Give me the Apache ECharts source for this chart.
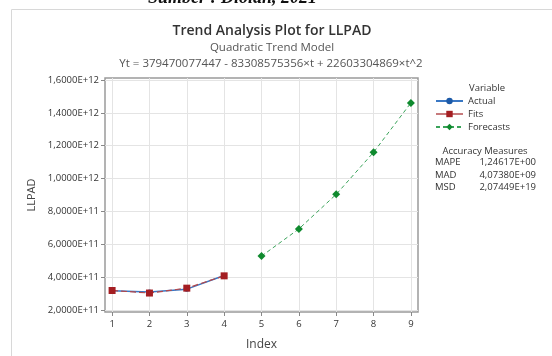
<!DOCTYPE html>
<html>
<head>
<meta charset="utf-8">
<style>html,body{margin:0;padding:0;background:#fff;}#c{width:552px;height:356px;}</style>
<script src="https://cdn.jsdelivr.net/npm/echarts@6/dist/echarts.min.js"></script>
</head>
<body>
<div id="c"></div>
<script>
const indexValues = [1, 2, 3, 4, 5, 6, 7, 8, 9];
const actualIdx = [1, 2, 3, 4];
const actualValues = [3.167e11, 3.094e11, 3.269e11, 4.099e11];
const fitsIdx = [1, 2, 3, 4];
const fitsValues = [3.188e11, 3.033e11, 3.330e11, 4.079e11];
const forecastIdx = [5, 6, 7, 8, 9];
const forecastValues = [5.280e11, 6.933e11, 9.039e11, 1.1596e12, 1.4606e12];
const yTicks = [2e11, 4e11, 6e11, 8e11, 1e12, 1.2e12, 1.4e12, 1.6e12];
const accLabels = ['MAPE', 'MAD', 'MSD'];
const accValues = ['1,24617E+00', '4,07380E+09', '2,07449E+19'];

const FONT = '"Open Sans", sans-serif';
function sci(v) {
  const e = Math.floor(Math.log10(v));
  const m = v / Math.pow(10, e);
  return m.toFixed(4).replace('.', ',') + 'E+' + String(e).padStart(2, '0');
}
const pairs = (xs, ys) => xs.map((x, i) => [x, ys[i]]);

const chart = echarts.init(document.getElementById('c'), null, {renderer: 'canvas'});
const graphics = [
  {type: 'rect', shape: {x: 11.5, y: 9.5, width: 600, height: 400}, style: {fill: 'none', stroke: '#d8d8d8', lineWidth: 1}},
  {type: 'text', x: 148, y: 7, style: {text: 'Sumber : Diolah, 2021', font: 'italic bold 18px "Liberation Serif", serif', fill: '#111', verticalAlign: 'bottom'}},
  {type: 'text', x: 487, y: 88, style: {text: 'Variable', font: '9.5px ' + FONT, fill: '#333', align: 'center', verticalAlign: 'middle'}},
  {type: 'text', x: 485, y: 151, style: {text: 'Accuracy Measures', font: '9.5px ' + FONT, fill: '#333', align: 'center', verticalAlign: 'middle'}}
];
accLabels.forEach((l, i) => {
  graphics.push({type: 'text', x: 435, y: 162.5 + i * 12.5, style: {text: l, font: '9.5px ' + FONT, fill: '#333', verticalAlign: 'middle'}});
  graphics.push({type: 'text', x: 536, y: 162.5 + i * 12.5, style: {text: accValues[i], font: '9.5px ' + FONT, fill: '#333', align: 'right', verticalAlign: 'middle'}});
});

chart.setOption({
  animation: false,
  textStyle: {fontFamily: FONT},
  title: [
    {text: 'Trend Analysis Plot for LLPAD', left: 267, top: 19, textAlign: 'center', textStyle: {fontSize: 14, fontWeight: 600, color: '#333', fontFamily: FONT}},
    {text: 'Quadratic Trend Model', left: 267, top: 37, textAlign: 'center', textStyle: {fontSize: 11.5, fontWeight: 'normal', color: '#555', fontFamily: FONT}},
    {text: 'Yt = 379470077447 - 83308575356\u00d7t + 22603304869\u00d7t^2', left: 266, top: 53, textAlign: 'center', textStyle: {fontSize: 11.5, fontWeight: 'normal', color: '#555', fontFamily: FONT}}
  ],
  grid: {left: 105, top: 78, right: 134, bottom: 43, show: true, borderColor: '#9a9a9a', borderWidth: 1.5, backgroundColor: 'transparent'},
  legend: {
    orient: 'vertical', left: 435, top: 96, padding: 0, itemWidth: 27, itemHeight: 8, itemGap: 3,
    textStyle: {fontSize: 9.5, color: '#333', fontFamily: FONT},
    data: [
      {name: 'Actual'},
      {name: 'Fits', lineStyle: {type: 'solid', color: '#c77a7c'}},
      {name: 'Forecasts'}
    ]
  },
  xAxis: {
    type: 'value', min: 0.81, max: 9.19,
    name: 'Index', nameLocation: 'middle', nameGap: 27,
    nameTextStyle: {fontSize: 12, color: '#444'},
    axisLine: {show: false},
    axisTick: {show: true, customValues: indexValues, length: 4, lineStyle: {color: '#888'}},
    axisLabel: {customValues: indexValues, fontSize: 9.5, color: '#333', margin: 7},
    splitLine: {show: true, lineStyle: {color: '#e4e4e4', width: 1}}
  },
  yAxis: {
    type: 'value', min: 1.879e11, max: 1.612e12,
    name: 'LLPAD', nameLocation: 'middle', nameGap: 63,
    nameTextStyle: {fontSize: 11, color: '#444'},
    axisLine: {show: false},
    axisTick: {show: true, customValues: yTicks, length: 4, lineStyle: {color: '#888'}},
    axisLabel: {customValues: yTicks, fontSize: 9.5, color: '#333', margin: 6, formatter: v => sci(v)},
    splitLine: {show: true, lineStyle: {color: '#e4e4e4', width: 1}}
  },
  graphic: graphics,
  series: [
    {name: 'Actual', type: 'line', data: pairs(actualIdx, actualValues), symbol: 'circle', symbolSize: 5,
     itemStyle: {color: '#1c5aa8'}, lineStyle: {color: '#3a78c4', width: 1.5}, z: 2},
    {name: 'Fits', type: 'line', data: pairs(fitsIdx, fitsValues), symbol: 'rect', symbolSize: 7,
     itemStyle: {color: '#a41e22'}, lineStyle: {color: '#b5474a', width: 1.2, type: [6, 3]}, z: 3},
    {name: 'Forecasts', type: 'line', data: pairs(forecastIdx, forecastValues), symbol: 'diamond', symbolSize: 8,
     itemStyle: {color: '#0f8a2e'}, lineStyle: {color: '#3aa35a', width: 1, type: [4, 3]}, z: 2}
  ]
});
</script>
</body>
</html>
